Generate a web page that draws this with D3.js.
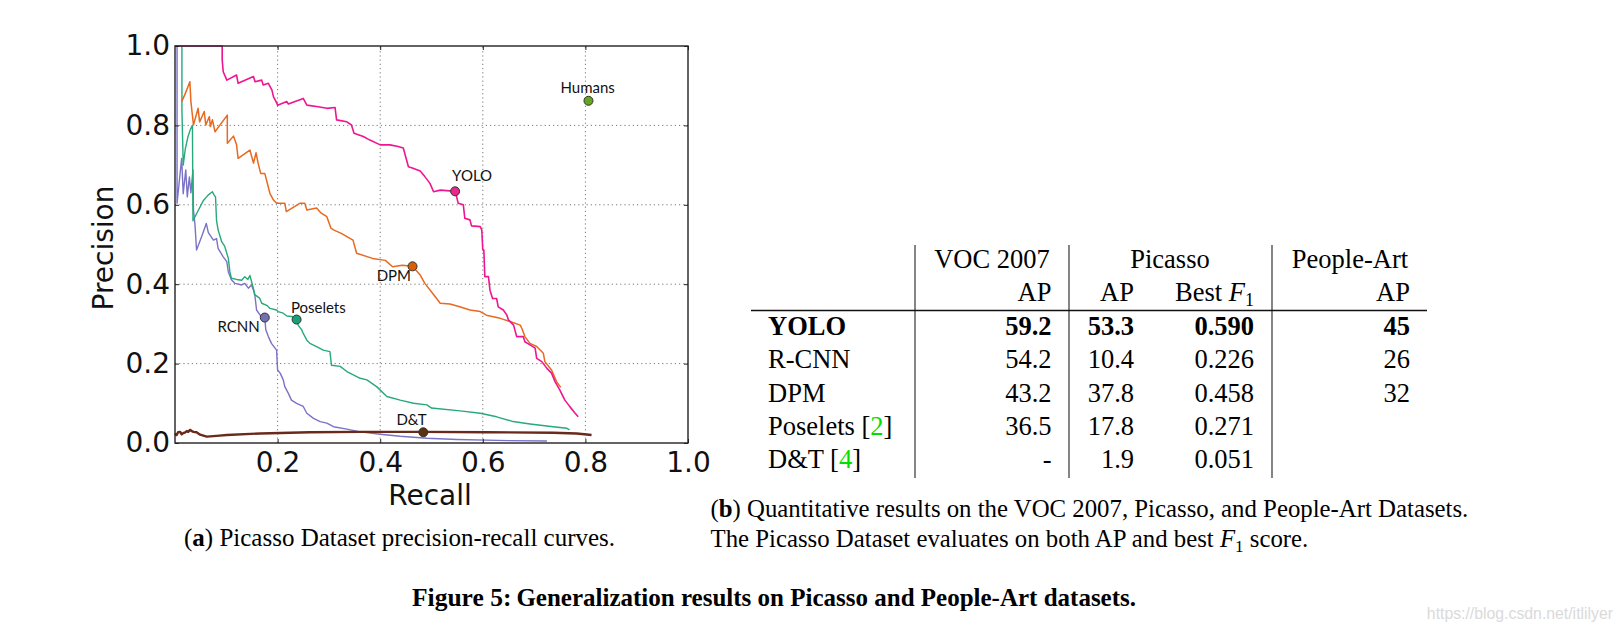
<!DOCTYPE html>
<html>
<head>
<meta charset="utf-8">
<script src="https://d3js.org/d3.v7.min.js"></script>
<style>
  html, body { margin: 0; padding: 0; background: #ffffff; }
  svg { display: block; }
</style>
</head>
<body>
<svg id="fig" width="1622" height="631"></svg>
<script>
// ---------------- DATA ----------------
const yoloCurve = [[0,1.0],[0.092,1.0],[0.092,0.965],[0.094,0.935],[0.101,0.914],[0.12,0.927],[0.123,0.906],[0.153,0.923],[0.156,0.91],[0.169,0.914],[0.172,0.902],[0.182,0.906],[0.189,0.889],[0.192,0.872],[0.197,0.86],[0.2,0.851],[0.218,0.86],[0.221,0.854],[0.25,0.868],[0.257,0.851],[0.279,0.847],[0.296,0.843],[0.312,0.845],[0.315,0.814],[0.335,0.809],[0.344,0.801],[0.349,0.78],[0.367,0.772],[0.38,0.763],[0.4,0.751],[0.419,0.751],[0.435,0.747],[0.445,0.743],[0.455,0.696],[0.464,0.692],[0.478,0.685],[0.487,0.671],[0.497,0.654],[0.504,0.633],[0.517,0.637],[0.536,0.635],[0.546,0.634],[0.549,0.62],[0.552,0.604],[0.562,0.6],[0.565,0.566],[0.575,0.562],[0.578,0.547],[0.595,0.545],[0.598,0.537],[0.6,0.486],[0.602,0.486],[0.604,0.419],[0.611,0.419],[0.614,0.385],[0.619,0.364],[0.627,0.364],[0.63,0.343],[0.64,0.335],[0.647,0.322],[0.65,0.31],[0.66,0.297],[0.666,0.268],[0.679,0.268],[0.682,0.255],[0.692,0.247],[0.702,0.239],[0.705,0.213],[0.715,0.205],[0.725,0.188],[0.734,0.176],[0.741,0.154],[0.75,0.134],[0.76,0.108],[0.77,0.091],[0.78,0.075],[0.786,0.066]];

const dpmCurve = [[0.013,0.86],[0.02,0.88],[0.029,0.91],[0.031,0.86],[0.036,0.801],[0.045,0.843],[0.048,0.809],[0.057,0.835],[0.06,0.801],[0.067,0.822],[0.069,0.797],[0.073,0.814],[0.078,0.784],[0.102,0.826],[0.102,0.755],[0.114,0.773],[0.12,0.751],[0.123,0.717],[0.146,0.738],[0.153,0.705],[0.158,0.731],[0.162,0.705],[0.167,0.679],[0.175,0.679],[0.185,0.629],[0.192,0.612],[0.198,0.604],[0.214,0.604],[0.217,0.583],[0.244,0.604],[0.253,0.604],[0.257,0.587],[0.276,0.592],[0.285,0.579],[0.296,0.57],[0.304,0.541],[0.309,0.537],[0.324,0.528],[0.347,0.511],[0.354,0.478],[0.385,0.465],[0.41,0.46],[0.424,0.444],[0.443,0.448],[0.463,0.445],[0.478,0.423],[0.487,0.402],[0.507,0.369],[0.517,0.352],[0.536,0.35],[0.555,0.343],[0.575,0.335],[0.595,0.331],[0.607,0.322],[0.634,0.314],[0.653,0.306],[0.673,0.297],[0.676,0.289],[0.682,0.268],[0.692,0.251],[0.705,0.243],[0.718,0.226],[0.721,0.205],[0.734,0.184],[0.744,0.154],[0.752,0.14]];

const poseletsCurve = [[0.0135,1.0],[0.0135,0.84],[0.016,0.70],[0.02,0.74],[0.025,0.77],[0.03,0.79],[0.034,0.80],[0.035,0.56],[0.045,0.585],[0.055,0.61],[0.065,0.625],[0.073,0.633],[0.076,0.625],[0.079,0.62],[0.081,0.56],[0.084,0.537],[0.091,0.507],[0.097,0.495],[0.104,0.465],[0.107,0.431],[0.11,0.415],[0.12,0.412],[0.13,0.41],[0.136,0.419],[0.142,0.412],[0.146,0.422],[0.151,0.398],[0.156,0.373],[0.165,0.365],[0.169,0.352],[0.18,0.346],[0.185,0.339],[0.198,0.335],[0.201,0.331],[0.211,0.327],[0.218,0.32],[0.231,0.318],[0.237,0.311],[0.24,0.297],[0.247,0.285],[0.25,0.276],[0.257,0.259],[0.263,0.251],[0.276,0.243],[0.289,0.234],[0.302,0.23],[0.305,0.196],[0.322,0.193],[0.335,0.18],[0.361,0.163],[0.374,0.159],[0.393,0.142],[0.413,0.117],[0.439,0.108],[0.465,0.1],[0.491,0.096],[0.5,0.088],[0.556,0.081],[0.595,0.075],[0.627,0.066],[0.659,0.054],[0.692,0.048],[0.737,0.041],[0.764,0.037],[0.769,0.033]];

const rcnnCurve = [[0.004,1.0],[0.004,0.604],[0.013,0.717],[0.016,0.628],[0.021,0.688],[0.024,0.62],[0.028,0.67],[0.031,0.63],[0.035,0.688],[0.036,0.587],[0.039,0.549],[0.042,0.486],[0.052,0.52],[0.061,0.553],[0.065,0.53],[0.068,0.524],[0.075,0.511],[0.081,0.515],[0.084,0.49],[0.094,0.469],[0.101,0.457],[0.104,0.431],[0.11,0.411],[0.117,0.402],[0.13,0.398],[0.136,0.402],[0.143,0.39],[0.149,0.398],[0.153,0.385],[0.156,0.369],[0.159,0.335],[0.166,0.322],[0.175,0.316],[0.177,0.285],[0.182,0.268],[0.188,0.251],[0.195,0.239],[0.198,0.234],[0.2,0.184],[0.205,0.176],[0.211,0.159],[0.214,0.142],[0.221,0.125],[0.227,0.108],[0.237,0.1],[0.25,0.092],[0.257,0.075],[0.27,0.062],[0.283,0.054],[0.296,0.05],[0.309,0.041],[0.335,0.035],[0.361,0.028],[0.4,0.022],[0.439,0.017],[0.491,0.012],[0.55,0.009],[0.65,0.006],[0.725,0.005]];

const dtCurve = [[0,0.024],[0.003,0.02],[0.006,0.027],[0.01,0.028],[0.013,0.022],[0.016,0.025],[0.02,0.027],[0.023,0.03],[0.026,0.028],[0.029,0.033],[0.033,0.03],[0.036,0.028],[0.042,0.027],[0.049,0.021],[0.062,0.016],[0.081,0.018],[0.101,0.02],[0.166,0.024],[0.263,0.027],[0.361,0.028],[0.484,0.028],[0.608,0.027],[0.737,0.026],[0.783,0.024],[0.812,0.02]];

const markerNames = ["YOLO", "DPM", "Poselets", "RCNN", "D&T", "Humans"];
const markerRecall = [0.546, 0.463, 0.237, 0.175, 0.484, 0.806];
const markerPrecision = [0.634, 0.445, 0.311, 0.316, 0.027, 0.862];

const xTickValues = [0.2, 0.4, 0.6, 0.8, 1.0];
const yTickValues = [0.0, 0.2, 0.4, 0.6, 0.8, 1.0];
const gridValues = [0.2, 0.4, 0.6, 0.8];

const tableMethods = ["YOLO", "R-CNN", "DPM", "Poselets", "D&T"];
const tableCitations = ["", "", "", "2", "4"];
const vocAP = ["59.2", "54.2", "43.2", "36.5", "-"];
const picassoAP = ["53.3", "10.4", "37.8", "17.8", "1.9"];
const picassoF1 = ["0.590", "0.226", "0.458", "0.271", "0.051"];
const peopleArtAP = ["45", "26", "32", "", ""];
const groupHeaders = ["VOC 2007", "Picasso", "People-Art"];

// ---------------- STYLE ----------------
const colors = {
  YOLO: "#ee1690", DPM: "#e8691f", Poselets: "#27a97a", RCNN: "#7a72c6", "D&T": "#6a2a1b", Humans: "#66a61e"
};
const dotColors = {
  YOLO: "#e7298a", DPM: "#d95f02", Poselets: "#1b9e77", RCNN: "#7570b3", "D&T": "#5a300f", Humans: "#66a61e"
};
const labelOffsets = {
  YOLO: [-3, -10, "start"], DPM: [-1.5, 15, "end"], Poselets: [-5.7, -6.6, "start"],
  RCNN: [-5, 14, "end"], "D&T": [3.3, -7.3, "end"], Humans: [-0.8, -7.4, "middle"]
};

const svg = d3.select("#fig");
svg.append("rect").attr("width", 1622).attr("height", 631).attr("fill", "#ffffff");

const P = { left: 175, top: 46, right: 688, bottom: 443 };
const x = d3.scaleLinear().domain([0, 1]).range([P.left, P.right]);
const y = d3.scaleLinear().domain([0, 1]).range([P.bottom, P.top]);

// grid
const grid = svg.append("g");
grid.selectAll("line.vg").data(gridValues).join("line")
  .attr("x1", d => x(d)).attr("x2", d => x(d)).attr("y1", y(0)).attr("y2", y(1))
  .attr("stroke", "#777").attr("stroke-width", 1).attr("stroke-dasharray", "1.2,3");
grid.selectAll("line.hg").data(gridValues).join("line")
  .attr("x1", x(0)).attr("x2", x(1)).attr("y1", d => y(d)).attr("y2", d => y(d))
  .attr("stroke", "#777").attr("stroke-width", 1).attr("stroke-dasharray", "1.2,3");

// curves
const line = d3.line().x(d => x(d[0])).y(d => y(d[1]));
const curves = [
  ["RCNN", rcnnCurve, 1.4],
  ["Poselets", poseletsCurve, 1.4],
  ["D&T", dtCurve, 2.4],
  ["DPM", dpmCurve, 1.5],
  ["YOLO", yoloCurve, 1.6]
];
svg.append("g").selectAll("path").data(curves).join("path")
  .attr("d", d => line(d[1]))
  .attr("fill", "none")
  .attr("stroke", d => colors[d[0]])
  .attr("stroke-width", d => d[2])
  .attr("stroke-linejoin", "round");

// axes
const styleAxis = s => {
  s.select(".domain").remove();
  s.selectAll(".tick line").attr("stroke", "#222").attr("stroke-width", 1);
  s.selectAll("text").attr("font-family", "DejaVu Sans").attr("font-size", 28).attr("fill", "#111");
};
svg.append("g").attr("transform", `translate(${P.left},0)`)
  .call(d3.axisLeft(y).tickValues(yTickValues).tickFormat(d3.format(".1f")).tickSize(-4).tickPadding(5))
  .call(styleAxis);
svg.append("g").attr("transform", `translate(0,${P.bottom})`)
  .call(d3.axisBottom(x).tickValues(xTickValues).tickFormat(d3.format(".1f")).tickSize(-4).tickPadding(9))
  .call(styleAxis);
svg.append("g").attr("transform", `translate(0,${P.top})`)
  .call(d3.axisTop(x).tickValues(xTickValues).tickFormat("").tickSize(-4))
  .call(styleAxis);
svg.append("g").attr("transform", `translate(${P.right},0)`)
  .call(d3.axisRight(y).tickValues(yTickValues).tickFormat("").tickSize(-4))
  .call(styleAxis);

// frame
svg.append("rect").attr("x", P.left).attr("y", P.top)
  .attr("width", P.right - P.left).attr("height", P.bottom - P.top)
  .attr("fill", "none").attr("stroke", "#222").attr("stroke-width", 1.4);

// axis labels
svg.append("text").attr("x", 430).attr("y", 505).attr("text-anchor", "middle")
  .attr("font-family", "DejaVu Sans").attr("font-size", 28).attr("fill", "#111").text("Recall");
svg.append("text").attr("transform", "translate(113,248) rotate(-90)").attr("text-anchor", "middle")
  .attr("font-family", "DejaVu Sans").attr("font-size", 28).attr("fill", "#111").text("Precision");

// markers
const markers = markerNames.map((n, i) => ({ name: n, r: markerRecall[i], p: markerPrecision[i] }));
const mg = svg.append("g");
mg.selectAll("circle").data(markers).join("circle")
  .attr("cx", d => x(d.r)).attr("cy", d => y(d.p)).attr("r", 4.5)
  .attr("fill", d => dotColors[d.name]).attr("stroke", "#333").attr("stroke-width", 1);
mg.selectAll("text").data(markers).join("text")
  .attr("x", d => x(d.r) + labelOffsets[d.name][0])
  .attr("y", d => y(d.p) + labelOffsets[d.name][1])
  .attr("text-anchor", d => labelOffsets[d.name][2])
  .attr("font-family", "Lato").attr("font-size", 15).attr("fill", "#111")
  .text(d => d.name);

// caption (a)
const capA = svg.append("text").attr("x", 184).attr("y", 546)
  .attr("font-family", "Liberation Serif").attr("font-size", 25).attr("fill", "#000");
capA.append("tspan").text("(");
capA.append("tspan").attr("font-weight", "bold").text("a");
capA.append("tspan").text(") Picasso Dataset precision-recall curves.");

// ---------------- TABLE ----------------
const T = svg.append("g").attr("font-family", "Liberation Serif").attr("font-size", 26.5).attr("fill", "#000");
const colEnds = [1051.5, 1134, 1254, 1410];
const groupCenters = [992, 1170, 1350];
const vLines = [915, 1069, 1272];
T.selectAll("line.v").data(vLines).join("line")
  .attr("x1", d => d).attr("x2", d => d).attr("y1", 245).attr("y2", 478)
  .attr("stroke", "#333").attr("stroke-width", 1.2);
T.append("line").attr("x1", 751).attr("x2", 1427).attr("y1", 310.5).attr("y2", 310.5)
  .attr("stroke", "#111").attr("stroke-width", 1.5);

T.selectAll("text.gh").data(groupHeaders).join("text")
  .attr("x", (d, i) => groupCenters[i]).attr("y", 267.5).attr("text-anchor", "middle").text(d => d);

const sub = ["AP", "AP", "Best", "AP"];
sub.forEach((s, i) => {
  const t = T.append("text").attr("x", colEnds[i]).attr("y", 300.5).attr("text-anchor", "end");
  if (s === "Best") {
    t.append("tspan").text("Best ");
    t.append("tspan").attr("font-style", "italic").text("F");
    t.append("tspan").attr("font-size", 18).attr("dy", 5).text("1");
  } else {
    t.text(s);
  }
});

const rowBase = [335, 368.3, 401.5, 434.6, 467.7];
tableMethods.forEach((m, i) => {
  const bold = i === 0 ? "bold" : "normal";
  const t = T.append("text").attr("x", 768).attr("y", rowBase[i]).attr("font-weight", bold);
  if (tableCitations[i]) {
    t.append("tspan").text(m + " [");
    t.append("tspan").attr("fill", "#00e000").text(tableCitations[i]);
    t.append("tspan").text("]");
  } else {
    t.text(m);
  }
  [vocAP[i], picassoAP[i], picassoF1[i], peopleArtAP[i]].forEach((v, j) => {
    if (v === "") return;
    T.append("text").attr("x", colEnds[j]).attr("y", rowBase[i])
      .attr("text-anchor", "end").attr("font-weight", bold).text(v);
  });
});

// caption (b)
const capB1 = svg.append("text").attr("x", 710.5).attr("y", 517)
  .attr("font-family", "Liberation Serif").attr("font-size", 24.8).attr("fill", "#000");
capB1.append("tspan").text("(");
capB1.append("tspan").attr("font-weight", "bold").text("b");
capB1.append("tspan").text(") Quantitative results on the VOC 2007, Picasso, and People-Art Datasets.");
const capB2 = svg.append("text").attr("x", 710.5).attr("y", 547)
  .attr("font-family", "Liberation Serif").attr("font-size", 24.8).attr("fill", "#000");
capB2.append("tspan").text("The Picasso Dataset evaluates on both AP and best ");
capB2.append("tspan").attr("font-style", "italic").text("F");
capB2.append("tspan").attr("font-size", 17).attr("dy", 5).text("1");
capB2.append("tspan").attr("dy", -5).text(" score.");

// figure title
const title = svg.append("text").attr("x", 412).attr("y", 606)
  .attr("font-family", "Liberation Serif").attr("font-weight", "bold").attr("font-size", 25).attr("fill", "#000");
title.append("tspan").attr("font-size", 25.5).text("Figure 5:");
title.append("tspan").attr("dx", 5).text("Generalization results on Picasso and People-Art datasets.");

// watermark
svg.append("text").attr("x", 1613).attr("y", 619).attr("text-anchor", "end")
  .attr("font-family", "Liberation Sans").attr("font-size", 15.8).attr("fill", "#dadada")
  .text("https://blog.csdn.net/itlilyer");
</script>
</body>
</html>
